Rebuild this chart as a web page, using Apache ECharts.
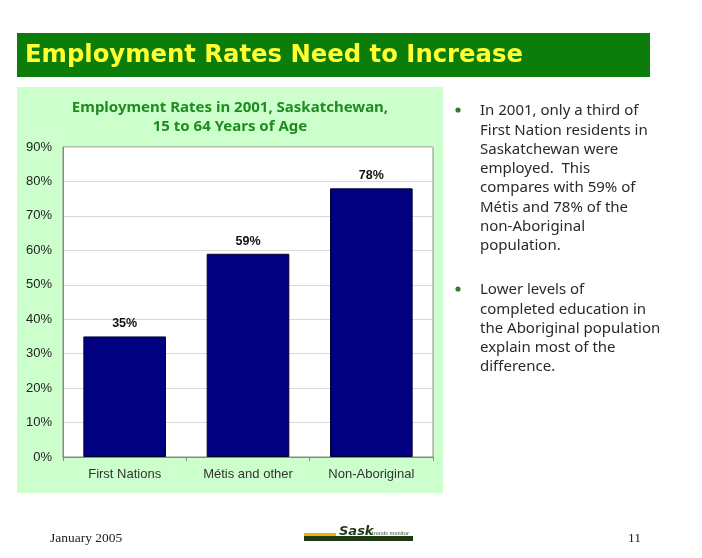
<!DOCTYPE html>
<html><head><meta charset="utf-8">
<script src="https://cdn.jsdelivr.net/npm/echarts@6/dist/echarts.min.js"></script>
<style>html,body{margin:0;padding:0;background:#fff;}#c{width:702px;height:558px;}</style>
</head><body><div id="c"></div>
<script>
const categories = ["First Nations", "Métis and other", "Non-Aboriginal"];
const rates = [35, 59, 78];
const yTicks = [0, 10, 20, 30, 40, 50, 60, 70, 80, 90];
const pageTitle = "Employment Rates Need to Increase";
const chartTitle = "Employment Rates in 2001, Saskatchewan,\n15 to 64 Years of Age";
const bullet1 = ["In 2001, only a third of", "First Nation residents in", "Saskatchewan were", "employed.  This", "compares with 59% of", "Métis and 78% of the", "non-Aboriginal", "population."];
const bullet2 = ["Lower levels of", "completed education in", "the Aboriginal population", "explain most of the", "difference."];

const chart = echarts.init(document.getElementById('c'), null, {renderer: 'canvas'});
const textFont = '"Noto Sans", "DejaVu Sans", sans-serif';
const g = [];
// banner
g.push({type:'rect', shape:{x:17,y:33,width:633,height:44}, style:{fill:'#0b7d0b'}, z:0});
g.push({type:'text', x:25, y:56, style:{text:pageTitle, fill:'#ffff33', font:'bold 24.3px "DejaVu Sans", sans-serif', verticalAlign:'middle'}});
// panel
g.push({type:'rect', shape:{x:17,y:87,width:426,height:406}, style:{fill:'#ccffcc'}, z:-10});
g.push({type:'text', x:230, y:117, style:{text:chartTitle, fill:'#1e8c1e', font:'bold 15px ' + textFont, align:'center', verticalAlign:'middle', lineHeight:19}});
// bullets
function para(lines, y0){
  g.push({type:'circle', shape:{cx:458,cy:y0-1,r:2.6}, style:{fill:'#2e7d2e'}});
  lines.forEach((t,i)=>{
    g.push({type:'text', x:480, y:y0 + i*19.3, style:{text:t, fill:'#2a2a2a', font:'15px ' + textFont, verticalAlign:'middle'}});
  });
}
para(bullet1, 111);
para(bullet2, 290);
// footer
g.push({type:'text', x:50, y:538, style:{text:'January 2005', fill:'#222', font:'13.5px "Liberation Serif", serif', verticalAlign:'middle'}});
g.push({type:'text', x:628, y:538, style:{text:'11', fill:'#222', font:'13.5px "Liberation Serif", serif', verticalAlign:'middle'}});
// logo
g.push({type:'rect', shape:{x:304,y:533,width:32,height:3}, style:{fill:'#f0b400'}});
g.push({type:'rect', shape:{x:304,y:536,width:109,height:5}, style:{fill:'#1f3a14'}});
g.push({type:'text', x:339, y:532, style:{text:'Sask', fill:'#1f3a14', font:'italic bold 13px "DejaVu Sans", sans-serif', verticalAlign:'middle'}});
g.push({type:'text', x:372, y:534, style:{text:'trends monitor', fill:'#1f3a14', font:'5px "DejaVu Sans", sans-serif', verticalAlign:'middle'}});

chart.setOption({
  animation:false,
  backgroundColor:'#ffffff',
  graphic: g,
  grid:{left:63, right:269, top:147, bottom:101, show:true, backgroundColor:'#ffffff', borderColor:'#888', borderWidth:1},
  xAxis:{type:'category', data:categories,
    axisLine:{lineStyle:{color:'#888'}}, axisTick:{show:true, lineStyle:{color:'#888'}, length:4},
    axisLabel:{color:'#333', fontFamily:'"Liberation Sans", Arial, sans-serif', fontSize:13, margin:11}},
  yAxis:{type:'value', min:0, max:90, interval:10,
    axisLine:{show:true, lineStyle:{color:'#888'}}, axisTick:{show:false},
    splitLine:{lineStyle:{color:'#d8d8d8'}},
    axisLabel:{color:'#222', fontFamily:'"Liberation Sans", Arial, sans-serif', fontSize:13, margin:11,
      formatter:v=> yTicks.includes(v) ? v + '%' : ''}},
  series:[{type:'bar', data:rates, barCategoryGap:'33%',
    itemStyle:{color:'#000080', borderColor:'#000033', borderWidth:1},
    label:{show:true, position:'top', distance:6, formatter:'{c}%', color:'#111', fontWeight:'bold', fontSize:12.5, fontFamily:'"Liberation Sans", Arial, sans-serif'}}]
});
</script></body></html>
